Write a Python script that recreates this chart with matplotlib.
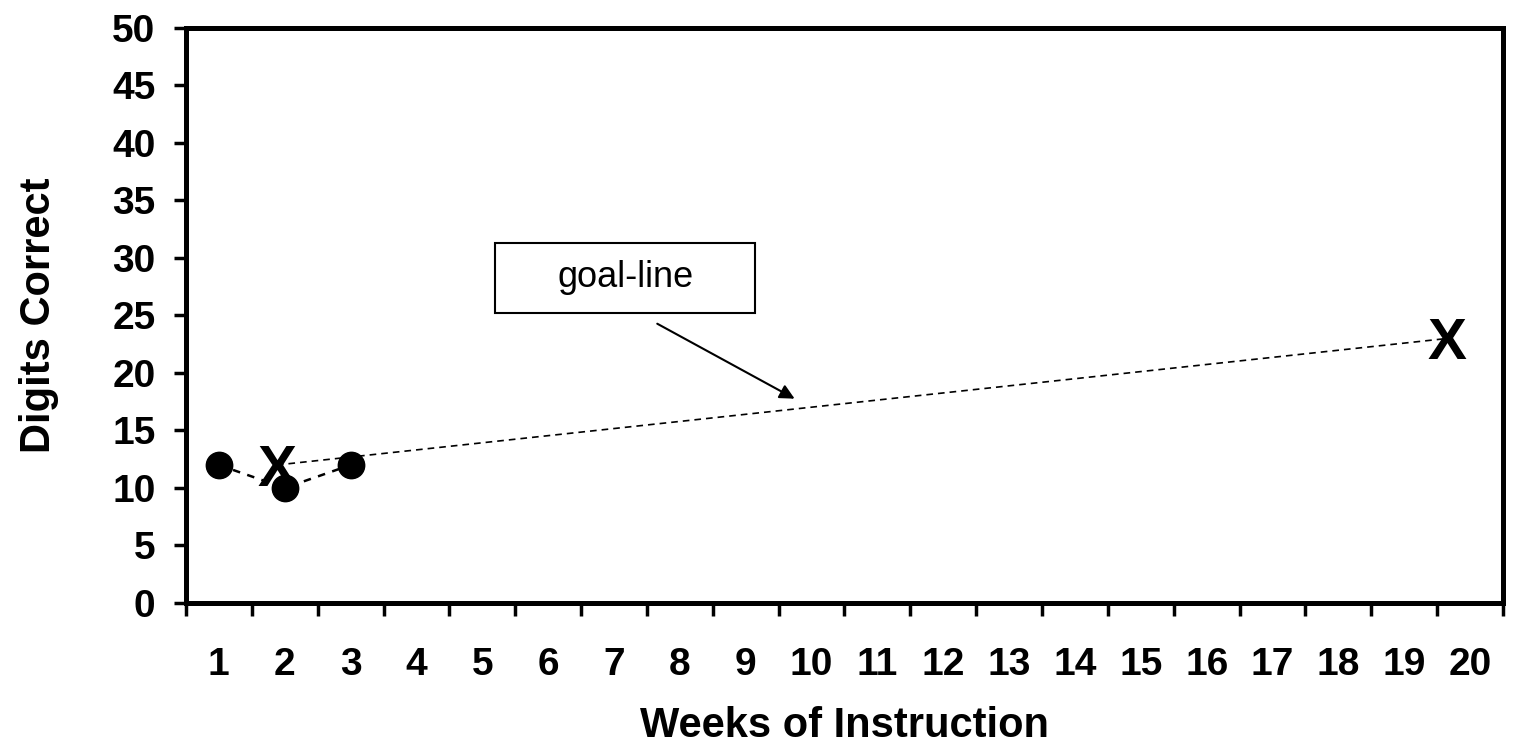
import matplotlib.pyplot as plt
from matplotlib.patches import Rectangle

# data
weeks = list(range(1, 21))
week_labels = [str(w) for w in weeks]
score_weeks = [1, 2, 3]
scores = [12, 10, 12]
goal_weeks = [1.88, 19.65]
goal_scores = [12, 23]
y_ticks = list(range(0, 51, 5))

plt.rcParams['font.family'] = ['Liberation Sans', 'DejaVu Sans']

fig = plt.figure(figsize=(15.13, 7.46), dpi=100)
ax = fig.add_axes([0.1229, 0.1917, 0.8705, 0.7708])

# student scores
ax.plot(score_weeks, scores, color='black', linestyle=(0, (3, 3)), linewidth=1.8,
        marker='o', markersize=19, markerfacecolor='black', markeredgecolor='black')

# goal line with X ends
ax.plot(goal_weeks, goal_scores, color='black', linestyle=(0, (4, 3)), linewidth=1.2)
for gx, gy in zip(goal_weeks, goal_scores):
    ax.text(gx, gy, 'X', fontsize=42, fontweight='bold', ha='center',
            va='center_baseline', color='black')

# callout box
ax.add_patch(Rectangle((5.19, 25.2), 3.95, 6.1, facecolor='white', edgecolor='black',
                       linewidth=1.5, zorder=3))
ax.text(7.17, 28.3, 'goal-line', fontsize=26, ha='center', va='center', zorder=4)
ax.annotate('', xy=(9.78, 17.65), xytext=(7.62, 24.4),
            arrowprops=dict(arrowstyle='-|>', color='black', lw=1.5, mutation_scale=22))

ax.set_xlim(0.5, 20.5)
ax.set_ylim(0, 50)
ax.set_yticks(y_ticks)
ax.set_yticklabels([str(v) for v in y_ticks])
ax.set_xticks([w - 0.5 for w in weeks] + [20.5])
ax.set_xticklabels([])
ax.set_xticks(weeks, minor=True)
ax.set_xticklabels(week_labels, minor=True)

ax.tick_params(axis='both', which='major', direction='out', length=9, width=2.5)
ax.tick_params(axis='x', which='minor', length=0, pad=32)
ax.tick_params(axis='y', which='major', pad=13)
for lab in ax.get_yticklabels() + ax.get_xticklabels(minor=True):
    lab.set_fontsize(28)
    lab.set_fontweight('bold')

for s in ax.spines.values():
    s.set_linewidth(3.6)

ax.set_xlabel('Weeks of Instruction', fontsize=30, fontweight='bold', labelpad=16)
ax.set_ylabel('Digits Correct', fontsize=30, fontweight='bold', labelpad=38)

fig.savefig('out.png', dpi=100)
